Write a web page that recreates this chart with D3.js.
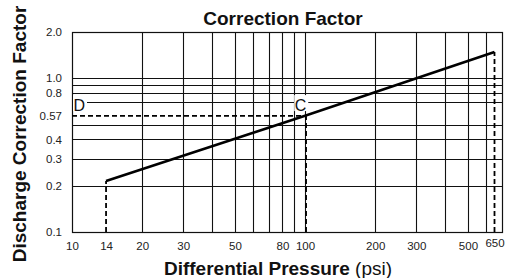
<!DOCTYPE html>
<html>
<head>
<meta charset="utf-8">
<script src="https://cdn.jsdelivr.net/npm/d3@7"></script>
<style>
  body { margin: 0; background: #fff; }
  svg { font-family: "Liberation Sans", Arial, Helvetica, sans-serif; }
</style>
</head>
<body>
<div id="chart"></div>
<script>
// curve values
var pressure = [14, 100, 650];
var factor = [0.215, 0.57, 1.48];

var x_ticks = [10, 14, 20, 30, 50, 80, 100, 200, 300, 500, 650];
var y_ticks = [0.1, 0.2, 0.3, 0.4, 0.57, 0.8, 1.0, 2.0];
var x_grid = [20, 30, 40, 50, 60, 70, 80, 90, 100, 200, 300, 400, 500, 600];
var y_grid = [0.2, 0.3, 0.4, 0.5, 0.7, 0.8, 0.9, 1.0];

// point labels
var point_names = ['D', 'C'];
var point_x = [10, 89];
var point_y = [0.7, 0.7];

var chart_width = 508;
var chart_height = 278;
var margin = { top: 32, right: 6, bottom: 46, left: 72 };

var svg = d3.select('#chart')
            .append('svg')
            .attr('width', chart_width)
            .attr('height', chart_height);

var x_scale = d3.scaleLog()
                .domain([10, 700])
                .range([margin.left, chart_width - margin.right]);

var y_scale = d3.scaleLog()
                .domain([0.1, 2])
                .range([chart_height - margin.bottom, margin.top]);

// snap 1px lines to the pixel grid
var px = (v) => Math.round(v) + 0.5;

var fmt = (d) => d === 0.57 ? '0.57' : d3.format('.1f')(d);

//Grid lines
svg.append('g')
    .selectAll('line')
    .data(x_grid)
    .enter()
    .append('line')
    .attr('x1', (d) => px(x_scale(d)))
    .attr('x2', (d) => px(x_scale(d)))
    .attr('y1', y_scale(0.1))
    .attr('y2', y_scale(2))
    .attr('stroke', '#111')
    .attr('stroke-width', 1.1);

svg.append('g')
    .selectAll('line')
    .data(y_grid)
    .enter()
    .append('line')
    .attr('x1', x_scale(10))
    .attr('x2', x_scale(700))
    .attr('y1', (d) => px(y_scale(d)))
    .attr('y2', (d) => px(y_scale(d)))
    .attr('stroke', '#111')
    .attr('stroke-width', 1.1);

//Frame
svg.append('rect')
    .attr('x', px(x_scale(10)))
    .attr('y', px(y_scale(2)))
    .attr('width', Math.round(x_scale(700) - x_scale(10)))
    .attr('height', Math.round(y_scale(0.1) - y_scale(2)))
    .attr('fill', 'none')
    .attr('stroke', '#111')
    .attr('stroke-width', 1.2);

//Axes (labels only)
var x_axis = d3.axisBottom(x_scale)
               .tickValues(x_ticks)
               .tickFormat(d3.format('d'))
               .tickSize(0)
               .tickPadding(10);

var gx = svg.append('g')
    .attr('transform', 'translate(0,' + y_scale(0.1) + ')')
    .call(x_axis);
gx.select('.domain').remove();
gx.selectAll('text')
    .attr('font-size', 11.5)
    .attr('font-family', null)
    .attr('fill', '#222')
    .filter((d) => d === 650)
    .attr('dy', '0.45em');

var y_axis = d3.axisLeft(y_scale)
               .tickValues(y_ticks)
               .tickFormat(fmt)
               .tickSize(0)
               .tickPadding(10);

var gy = svg.append('g')
    .attr('transform', 'translate(' + x_scale(10) + ',0)')
    .call(y_axis);
gy.select('.domain').remove();
gy.selectAll('text')
    .attr('font-size', 11.5)
    .attr('font-family', null)
    .attr('fill', '#222');

//Dashed guides
var guides = [
    [[14, 0.1], [14, factor[0]]],
    [[101, 0.1], [101, factor[1]]],
    [[10, factor[1]], [100, factor[1]]],
    [[650, 0.1], [650, factor[2]]]
];
var line = d3.line()
             .x((d) => x_scale(d[0]))
             .y((d) => y_scale(d[1]));

svg.append('g')
    .selectAll('path')
    .data(guides)
    .enter()
    .append('path')
    .attr('d', line)
    .attr('fill', 'none')
    .attr('stroke', '#000')
    .attr('stroke-width', 1.8)
    .attr('stroke-dasharray', '5,3');

//Point labels
var pts = svg.append('g')
    .selectAll('g')
    .data(point_names)
    .enter()
    .append('g')
    .attr('transform', (d, i) => 'translate(' + (x_scale(point_x[i]) + 1) + ',' + y_scale(point_y[i]) + ')');
pts.append('rect')
    .attr('x', 0)
    .attr('y', -7)
    .attr('width', 14)
    .attr('height', 16)
    .attr('fill', '#fff');
pts.append('text')
    .text((d) => d)
    .attr('x', 0.5)
    .attr('y', 8.5)
    .attr('font-size', 16)
    .attr('fill', '#111');

//Main curve
svg.append('path')
    .datum(pressure.map((p, i) => [p, factor[i]]))
    .attr('d', line)
    .attr('fill', 'none')
    .attr('stroke', '#000')
    .attr('stroke-width', 2.6);

//Titles
svg.append('text')
    .text('Correction Factor')
    .attr('x', 283)
    .attr('y', 25)
    .attr('text-anchor', 'middle')
    .attr('font-weight', 'bold')
    .attr('font-size', 19)
    .attr('fill', '#111');

var xt = svg.append('text')
    .attr('x', 278)
    .attr('y', 275)
    .attr('text-anchor', 'middle')
    .attr('font-size', 19)
    .attr('fill', '#111');
xt.append('tspan').attr('font-weight', 'bold').text('Differential Pressure ');
xt.append('tspan').text('(psi)');

svg.append('text')
    .text('Discharge Correction Factor')
    .attr('transform', 'translate(26,134) rotate(-90)')
    .attr('text-anchor', 'middle')
    .attr('font-weight', 'bold')
    .attr('font-size', 19)
    .attr('fill', '#111');
</script>
</body>
</html>
